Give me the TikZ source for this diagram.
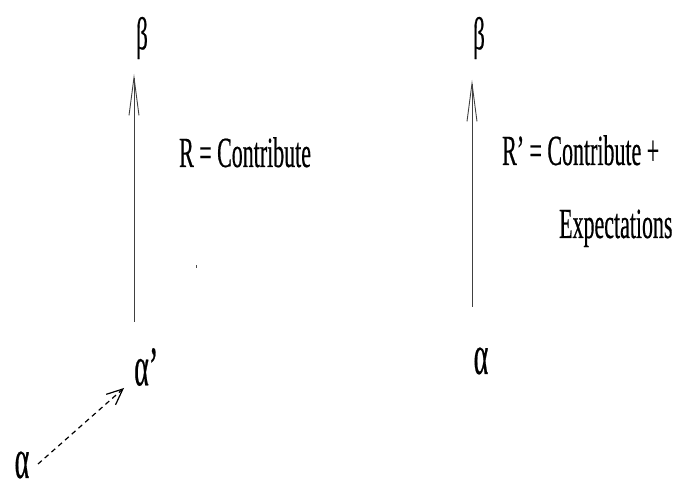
\documentclass[tikz,border=0pt]{standalone}
\usepackage{fontspec}
\newfontfamily\cnd[FakeStretch=0.51,FakeBold=0.4]{Liberation Serif}
\newfontfamily\gcnd[FakeStretch=0.5,FakeBold=0.4]{Liberation Serif}
\usetikzlibrary{arrows.meta}
\begin{document}
\begin{tikzpicture}[x=1pt,y=-1pt,
  lbl/.style={inner sep=0pt, font=\cnd\fontsize{43}{50}\selectfont},
  grk/.style={inner sep=0pt, font=\gcnd\fontsize{46}{50}\selectfont},
  alf/.style={inner sep=0pt, font=\gcnd\fontsize{56}{64}\selectfont},
  shaft/.style={draw=black!75, line width=0.9pt, -{Straight Barb[length=38pt,width=10pt]}},
  dsh/.style={draw=black, line width=1.2pt, dash pattern=on 5pt off 4pt, -{Straight Barb[length=16pt,width=14pt]}}]
\useasboundingbox (0,0) rectangle (673,486);
% Greek labels
\node[grk] (bL) at (142,38) {β};
\node[grk] (bR) at (479,38) {β};
\node[alf,anchor=west] (aP) at (134,367) {α’};
\node[alf] (aR) at (481,361) {α};
\node[alf] (aL) at (22,465) {α};
% text labels
\node[lbl,anchor=base west] (rL) at (179,167) {R = Contribute};
\node[lbl,anchor=base west] (rR) at (502,165) {R’ = Contribute +};
\node[lbl,anchor=base west] (ex) at (559,238) {Expectations};
% connector end points
\coordinate (sL) at (134,322); \coordinate (tL) at (134,74);
\coordinate (sR) at (472,307); \coordinate (tR) at (472,80);
\coordinate (sD) at (38,464);  \coordinate (tD) at (124,388);
\draw[shaft] (sL) -- (tL);
\draw[shaft] (sR) -- (tR);
\draw[dsh] (sD) -- (tD);
% stray dot
\fill[black!70] (195.5,265.5) rectangle (197,268.5);
\end{tikzpicture}
\end{document}
